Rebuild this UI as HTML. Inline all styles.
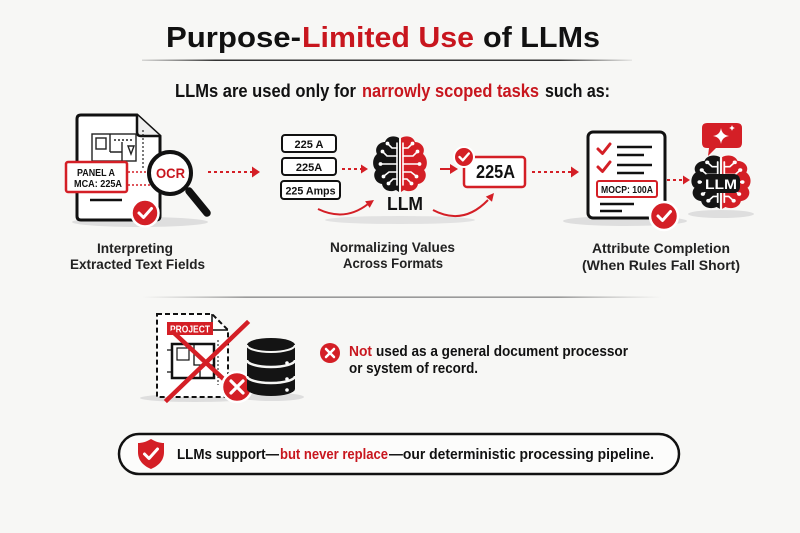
<!DOCTYPE html>
<html>
<head>
<meta charset="utf-8">
<style>
  html, body { margin:0; padding:0; background:#f7f7f5; }
  svg { display:block; }
  text { font-family: "Liberation Sans", "DejaVu Sans", sans-serif; font-weight:bold; }
</style>
</head>
<body>
<svg width="800" height="533" viewBox="0 0 800 533" xmlns="http://www.w3.org/2000/svg">
  <defs>
    <linearGradient id="divg" x1="0" x2="1" y1="0" y2="0">
      <stop offset="0" stop-color="#999" stop-opacity="0"/>
      <stop offset="0.2" stop-color="#777" stop-opacity="0.9"/>
      <stop offset="0.8" stop-color="#777" stop-opacity="0.9"/>
      <stop offset="1" stop-color="#999" stop-opacity="0"/>
    </linearGradient>
    <linearGradient id="titleg" x1="0" x2="1" y1="0" y2="0">
      <stop offset="0" stop-color="#555" stop-opacity="0.2"/>
      <stop offset="0.15" stop-color="#333" stop-opacity="1"/>
      <stop offset="0.85" stop-color="#333" stop-opacity="1"/>
      <stop offset="1" stop-color="#555" stop-opacity="0.1"/>
    </linearGradient>
    <g id="brainL">
      <path d="M-1,-27 C-6,-30 -13,-29 -15,-23 C-21,-23 -26,-17 -23,-11 C-28,-7 -28,2 -24,5 C-28,10 -25,18 -18,19 C-17,25 -10,28 -4,25 L-1,27 Z"/>
    </g>
    <g id="circL" fill="none" stroke="#fff" stroke-width="1.6" stroke-linecap="round">
      <path d="M-3,-22 V20"/>
      <path d="M-3,-17 H-8 L-12,-21"/>
      <path d="M-3,-9 H-13 L-17,-13"/>
      <path d="M-3,-1 H-19"/>
      <path d="M-3,7 H-11 L-16,11"/>
      <path d="M-3,14 H-7 L-11,18"/>
      <circle cx="-12.5" cy="-21.5" r="1.9" fill="#fff" stroke="none"/>
      <circle cx="-17.5" cy="-13.5" r="1.9" fill="#fff" stroke="none"/>
      <circle cx="-19.5" cy="-1" r="1.9" fill="#fff" stroke="none"/>
      <circle cx="-16.5" cy="11.5" r="1.9" fill="#fff" stroke="none"/>
      <circle cx="-11.5" cy="18.5" r="1.9" fill="#fff" stroke="none"/>
    </g>
    <g id="brain">
      <use href="#brainL" fill="#141414"/>
      <g transform="scale(-1,1)"><use href="#brainL" fill="#d41f26"/></g>
      <use href="#circL"/>
      <g transform="scale(-1,1)"><use href="#circL"/></g>
    </g>
  </defs>

  <rect x="0" y="0" width="800" height="533" fill="#f7f7f5"/>

  <!-- Title -->
  <text x="166" y="47" font-size="29" fill="#111" textLength="135" lengthAdjust="spacingAndGlyphs">Purpose-</text>
  <text x="302" y="47" font-size="29" fill="#c8161e" textLength="172" lengthAdjust="spacingAndGlyphs">Limited Use</text>
  <text x="483" y="47" font-size="29" fill="#111" textLength="117" lengthAdjust="spacingAndGlyphs">of LLMs</text>
  <rect x="142" y="59.5" width="490" height="1.5" fill="url(#titleg)"/>

  <!-- Subtitle -->
  <text x="175" y="97" font-size="18" fill="#111" textLength="181" lengthAdjust="spacingAndGlyphs">LLMs are used only for</text>
  <text x="362" y="97" font-size="18" fill="#c8161e" textLength="177" lengthAdjust="spacingAndGlyphs">narrowly scoped tasks</text>
  <text x="545" y="97" font-size="18" fill="#111" textLength="65" lengthAdjust="spacingAndGlyphs">such as:</text>

  <!-- ===== Section 1 ===== -->
  <ellipse cx="140" cy="222" rx="68" ry="5" fill="#dedede"/>
  <path d="M81,115 L137,115 L160,136 L160,216 Q160,220 156,220 L81,220 Q77,220 77,216 L77,119 Q77,115 81,115 Z" fill="#fff" stroke="#111" stroke-width="3"/>
  <path d="M137,115 L137,132 Q137,136 141,136 L160,136" fill="#eee" stroke="#111" stroke-width="2.5"/>
  <g fill="none" stroke="#222" stroke-width="1.4">
    <rect x="92" y="134" width="44" height="27"/>
    <rect x="96" y="138" width="10" height="11"/>
    <path d="M110,134 V152 M110,152 H122 M122,142 V161 M128,146 L134,146 L131,154 Z"/>
    <path d="M114,140 H134" stroke-dasharray="2,2"/>
    <path d="M143,130 V170" stroke-dasharray="2,2" stroke-width="1.2"/>
  </g>
  <line x1="90" y1="200" x2="122" y2="200" stroke="#111" stroke-width="2.5"/>
  <rect x="66" y="162" width="61" height="30" rx="2" fill="#fff" stroke="#d41f26" stroke-width="2.5"/>
  <text x="77" y="176" font-size="10.5" fill="#111" textLength="38" lengthAdjust="spacingAndGlyphs">PANEL A</text>
  <text x="74" y="187" font-size="10.5" fill="#111" textLength="48" lengthAdjust="spacingAndGlyphs">MCA: 225A</text>
  <path d="M128,172 H150 M128,185 H150" stroke="#d41f26" stroke-width="1.6" stroke-dasharray="2,2"/>
  <line x1="189" y1="191" x2="207" y2="213" stroke="#111" stroke-width="7.5" stroke-linecap="round"/>
  <circle cx="170" cy="173" r="21" fill="#fff" stroke="#111" stroke-width="4"/>
  <text x="156" y="178" font-size="14" fill="#c8161e" textLength="29" lengthAdjust="spacingAndGlyphs">OCR</text>
  <circle cx="145" cy="213" r="13.5" fill="#d41f26" stroke="#fff" stroke-width="2.5"/>
  <path d="M139,213 L143.5,217.5 L151.5,208.5" fill="none" stroke="#fff" stroke-width="3" stroke-linecap="round" stroke-linejoin="round"/>
  <line x1="208" y1="172" x2="252" y2="172" stroke="#d41f26" stroke-width="2" stroke-dasharray="3,3"/>
  <polygon points="252,166.5 260,172 252,177.5" fill="#d41f26"/>

  <text x="97" y="253" font-size="14" fill="#222" textLength="76" lengthAdjust="spacingAndGlyphs">Interpreting</text>
  <text x="70" y="269" font-size="14" fill="#222" textLength="135" lengthAdjust="spacingAndGlyphs">Extracted Text Fields</text>

  <!-- ===== Section 2 ===== -->
  <ellipse cx="400" cy="220" rx="75" ry="4" fill="#e2e2e2"/>
  <rect x="282" y="135" width="54" height="17" rx="3" fill="#fff" stroke="#111" stroke-width="2"/>
  <text x="309" y="148" font-size="11" fill="#111" text-anchor="middle">225 A</text>
  <rect x="282" y="158" width="54" height="17" rx="3" fill="#fff" stroke="#111" stroke-width="2"/>
  <text x="309" y="171" font-size="11" fill="#111" text-anchor="middle">225A</text>
  <rect x="281" y="181" width="59" height="18" rx="3" fill="#fff" stroke="#111" stroke-width="2"/>
  <text x="310.5" y="194.5" font-size="11" fill="#111" text-anchor="middle" textLength="50" lengthAdjust="spacingAndGlyphs">225 Amps</text>

  <line x1="342" y1="169" x2="361" y2="169" stroke="#d41f26" stroke-width="2" stroke-dasharray="3,3"/>
  <polygon points="361,164.5 368,169 361,173.5" fill="#d41f26"/>

  <g transform="translate(400,165)"><use href="#brain"/></g>
  <text x="387" y="210" font-size="18" fill="#111" textLength="36" lengthAdjust="spacingAndGlyphs">LLM</text>

  <path d="M318,209 Q345,222 368,204" fill="none" stroke="#d41f26" stroke-width="2"/>
  <polygon points="374,200 369.7,207.9 365.1,201.3" fill="#d41f26"/>

  <line x1="440" y1="169" x2="451" y2="169" stroke="#d41f26" stroke-width="2"/>
  <polygon points="450,164 458,169 450,174" fill="#d41f26"/>

  <rect x="464" y="157" width="61" height="30" rx="3" fill="#fff" stroke="#d41f26" stroke-width="2.5"/>
  <text x="476" y="178" font-size="18" fill="#111" textLength="39" lengthAdjust="spacingAndGlyphs">225A</text>
  <circle cx="464" cy="157" r="10" fill="#d41f26" stroke="#fff" stroke-width="2"/>
  <path d="M459.5,157 L462.8,160.3 L468.8,153.5" fill="none" stroke="#fff" stroke-width="2.4" stroke-linecap="round" stroke-linejoin="round"/>

  <path d="M433,210 Q463,226 488,200" fill="none" stroke="#d41f26" stroke-width="2"/>
  <polygon points="494,193 492,201.8 485.8,196.6" fill="#d41f26"/>

  <text x="330" y="252" font-size="14" fill="#222" textLength="125" lengthAdjust="spacingAndGlyphs">Normalizing Values</text>
  <text x="343" y="268" font-size="14" fill="#222" textLength="100" lengthAdjust="spacingAndGlyphs">Across Formats</text>

  <line x1="532" y1="172" x2="571" y2="172" stroke="#d41f26" stroke-width="2" stroke-dasharray="3,3"/>
  <polygon points="571,166.5 579,172 571,177.5" fill="#d41f26"/>

  <!-- ===== Section 3 ===== -->
  <ellipse cx="625" cy="221" rx="62" ry="5" fill="#dedede"/>
  <rect x="588" y="132" width="77" height="86" rx="5" fill="#fff" stroke="#111" stroke-width="3"/>
  <path d="M598,149 L602.5,153.5 L610,144 M598,167 L602.5,171.5 L610,162" fill="none" stroke="#d41f26" stroke-width="3" stroke-linecap="round" stroke-linejoin="round"/>
  <path d="M617,147 H652 M617,155 H644 M617,165 H652 M617,173 H644" stroke="#111" stroke-width="2.5"/>
  <rect x="597" y="181" width="60" height="16" rx="2" fill="#fff" stroke="#d41f26" stroke-width="2"/>
  <text x="601" y="193" font-size="10" fill="#111" textLength="52" lengthAdjust="spacingAndGlyphs">MOCP: 100A</text>
  <path d="M600,204 H634 M600,211 H622" stroke="#111" stroke-width="2.5"/>
  <circle cx="664" cy="216" r="14" fill="#d41f26" stroke="#fff" stroke-width="2.5"/>
  <path d="M658,216 L662.5,220.5 L670.5,211.5" fill="none" stroke="#fff" stroke-width="3" stroke-linecap="round" stroke-linejoin="round"/>

  <line x1="667" y1="180" x2="683" y2="180" stroke="#d41f26" stroke-width="2" stroke-dasharray="3,3"/>
  <polygon points="683,175.5 690,180 683,184.5" fill="#d41f26"/>

  <ellipse cx="721" cy="214" rx="33" ry="4" fill="#dedede"/>
  <g transform="translate(721,183) scale(1.1,0.96)"><use href="#brain"/></g>
  <rect x="702" y="174" width="38" height="19" rx="6" fill="#141414"/>
  <text x="721" y="189" font-size="14" fill="#fff" text-anchor="middle" textLength="32" lengthAdjust="spacingAndGlyphs">LLM</text>

  <path d="M707,123 H737 Q742,123 742,128 V143 Q742,148 737,148 H716 L708,156 L709,148 H707 Q702,148 702,143 V128 Q702,123 707,123 Z" fill="#d41f26"/>
  <path d="M721,128 Q722,135 729,136 Q722,137 721,144 Q720,137 713,136 Q720,135 721,128 Z" fill="#fff"/>
  <path d="M732,125 Q732.5,127.5 735,128 Q732.5,128.5 732,131 Q731.5,128.5 729,128 Q731.5,127.5 732,125 Z" fill="#fff"/>

  <text x="592" y="253" font-size="14" fill="#222" textLength="138" lengthAdjust="spacingAndGlyphs">Attribute Completion</text>
  <text x="582" y="270" font-size="14" fill="#222" textLength="158" lengthAdjust="spacingAndGlyphs">(When Rules Fall Short)</text>

  <rect x="142" y="296.5" width="520" height="1.3" fill="url(#divg)"/>

  <!-- ===== Bottom section ===== -->
  <ellipse cx="195" cy="398" rx="55" ry="4" fill="#dedede"/>
  <ellipse cx="272" cy="397" rx="32" ry="4" fill="#dedede"/>
  <path d="M157,314 H212 L228,330 V397 H157 Z" fill="#fff" stroke="#111" stroke-width="2" stroke-dasharray="5,3"/>
  <path d="M212,314 V330 H228" fill="none" stroke="#111" stroke-width="1.5"/>
  <rect x="167" y="322" width="46" height="13" fill="#d41f26"/>
  <text x="170" y="332.5" font-size="10" fill="#fff" textLength="40" lengthAdjust="spacingAndGlyphs">PROJECT</text>
  <g fill="none" stroke="#111">
    <rect x="172" y="344" width="42" height="34" stroke-width="2.5"/>
    <rect x="177" y="348" width="12" height="12" stroke-width="1.2"/>
    <path d="M194,344 V365 H214 M200,365 V378 M167,350 H172 M167,372 H172" stroke-width="1.3"/>
    <path d="M218,340 V385" stroke-width="1" stroke-dasharray="2,2"/>
  </g>
  <path d="M167,400 L247,323 M173,332 L231,386" stroke="#d41f26" stroke-width="4.5" stroke-linecap="square"/>
  <circle cx="237" cy="387" r="15" fill="#d41f26" stroke="#fff" stroke-width="2.5"/>
  <path d="M231,381 L243,393 M243,381 L231,393" stroke="#fff" stroke-width="3.2" stroke-linecap="round"/>

  <path d="M247,345 V389 A24,7 0 0 0 295,389 V345 A24,7 0 0 0 247,345 Z" fill="#141414"/>
  <path d="M247,345 A24,7 0 0 0 295,345" fill="none" stroke="#f7f7f5" stroke-width="2"/>
  <path d="M247,360 A24,7 0 0 0 295,360" fill="none" stroke="#f7f7f5" stroke-width="2.5"/>
  <path d="M247,376 A24,7 0 0 0 295,376" fill="none" stroke="#f7f7f5" stroke-width="2.5"/>
  <circle cx="287" cy="363" r="1.8" fill="#fff"/>
  <circle cx="287" cy="379" r="1.8" fill="#fff"/>
  <circle cx="287" cy="390" r="1.8" fill="#fff"/>

  <circle cx="330" cy="353" r="10" fill="#d41f26"/>
  <path d="M326,349 L334,357 M334,349 L326,357" stroke="#fff" stroke-width="2.5" stroke-linecap="round"/>

  <text x="349" y="356" font-size="15" fill="#c8161e" textLength="23" lengthAdjust="spacingAndGlyphs">Not</text>
  <text x="376" y="356" font-size="15" fill="#111" textLength="252" lengthAdjust="spacingAndGlyphs">used as a general document processor</text>
  <text x="349" y="373" font-size="15" fill="#111" textLength="129" lengthAdjust="spacingAndGlyphs">or system of record.</text>

  <rect x="119" y="434" width="560" height="40" rx="20" fill="#fcfcfb" stroke="#111" stroke-width="2.5"/>
  <path d="M151,439 C146,442 142,443 138,443 V452 C138,461 144,466 151,469 C158,466 164,461 164,452 V443 C160,443 156,442 151,439 Z" fill="#d41f26"/>
  <path d="M144.5,454 L149,458.5 L157.5,449" fill="none" stroke="#fff" stroke-width="3" stroke-linecap="round" stroke-linejoin="round"/>
  <text x="177" y="459" font-size="15" fill="#111" textLength="102" lengthAdjust="spacingAndGlyphs">LLMs support—</text>
  <text x="280" y="459" font-size="15" fill="#c8161e" textLength="108" lengthAdjust="spacingAndGlyphs">but never replace</text>
  <text x="389" y="459" font-size="15" fill="#111" textLength="265" lengthAdjust="spacingAndGlyphs">—our deterministic processing pipeline.</text>
</svg>
</body>
</html>
